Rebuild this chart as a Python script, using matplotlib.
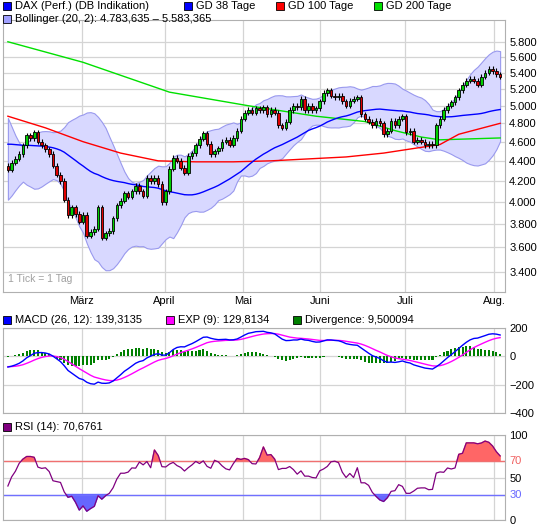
import matplotlib
matplotlib.use("Agg")
import matplotlib.pyplot as plt
import numpy as np
from matplotlib.patches import Rectangle

plt.rcParams.update({
    "font.family": ["Liberation Sans", "DejaVu Sans"],
    "font.size": 8,
    "axes.linewidth": 0.8,
})

# ---- data ----
# Schlusskurse Dez/Jan (Vorlauf fuer Indikatoren)
pre_close = [4380, 4450, 4500, 4420, 4550, 4600, 4700, 4650, 4720, 4750, 4700, 4680,
             4720, 4650, 4630, 4700, 4750, 4810,
             4950, 4980, 5030, 4940, 4880, 4780, 4720, 4500, 4450, 4370, 4320, 4250,
             4240, 4260, 4230, 4320, 4400, 4380, 4330, 4350, 4420, 4350]
close = [4310, 4380, 4420, 4470, 4560, 4670, 4640, 4700, 4600, 4560,
         4520, 4470, 4350, 4260, 4200, 4020, 3880, 3950, 3890, 3820,
         3880, 3700, 3730, 3760, 3950, 3680, 3720, 3740, 3850, 3970,
         4010, 4080, 4050, 4100, 4150, 4100, 4060, 4230, 4200, 4230,
         4170, 4000, 4100, 4320, 4430, 4400, 4330, 4280, 4450, 4480,
         4560, 4630, 4690, 4580, 4470, 4500, 4530, 4600, 4620, 4570,
         4640, 4720, 4850, 4920, 4950, 4920, 4970, 4950, 4980, 4900,
         4950, 4920, 4780, 4750, 4820, 4950, 5000, 4980, 5080, 4950,
         5000, 4950, 4970, 5050, 5150, 5180, 5120, 5100, 5120, 5050,
         5000, 5060, 5080, 5100, 4900, 4850, 4820, 4780, 4830, 4800,
         4680, 4720, 4830, 4780, 4850, 4880, 4700, 4720, 4600, 4620,
         4600, 4560, 4580, 4560, 4780, 4850, 4950, 5000, 5040, 5100,
         5180, 5250, 5300, 5320, 5300, 5250, 5350, 5400, 5450, 5420, 5380, 5350]
gd100_idx = [0, 10, 20, 30, 40, 50, 60, 70, 80, 90, 100, 110, 115, 120, 131]
gd100_val = [4880, 4750, 4600, 4480, 4400, 4390, 4390, 4400, 4420, 4440, 4480, 4540, 4570, 4680, 4800]
gd200_idx = [0, 20, 43, 64, 82, 95, 103, 110, 115, 131]
gd200_val = [5800, 5530, 5160, 5000, 4880, 4820, 4720, 4650, 4620, 4640]
months = ["März", "April", "Mai", "Juni", "Juli", "Aug."]
month_pos = [19.7, 41.7, 62.5, 83.1, 105.7, 129.4]
price_ticks = [3400, 3600, 3800, 4000, 4200, 4400, 4600, 4800, 5000, 5200, 5400, 5600, 5800]

# ---- Indikatoren ----
allc = np.array(pre_close + close, dtype=float)
P = len(pre_close)
N = len(close)
x = np.arange(N)
c = allc[P:]
o = allc[P - 1:-1]
hi = np.maximum(o, c) * 1.006
lo = np.minimum(o, c) * 0.994

def sma(a, n):
    return np.array([a[i - n + 1:i + 1].mean() for i in range(P, len(a))])

def sstd(a, n):
    return np.array([a[i - n + 1:i + 1].std() for i in range(P, len(a))])

gd38 = sma(allc, 38)
mid = sma(allc, 20)
sd = sstd(allc, 20)
bb_up, bb_lo = mid + 2 * sd, mid - 2 * sd

def ema(a, n):
    k = 2 / (n + 1)
    out = np.empty_like(a)
    out[0] = a[0]
    for i in range(1, len(a)):
        out[i] = a[i] * k + out[i - 1] * (1 - k)
    return out

macd_all = ema(allc, 12) - ema(allc, 26)
sig_all = ema(macd_all, 9)
macd, sig = macd_all[P:], sig_all[P:]
div = macd - sig

# RSI (14) mit einfachen Mittelwerten
d = np.diff(allc)
g = np.where(d > 0, d, 0)
l = np.where(d < 0, -d, 0)
rsi = []
for i in range(P, len(allc)):
    up = g[i - 14:i].sum()
    dn = l[i - 14:i].sum()
    rsi.append(100 * up / max(up + dn, 1e-9))
rsi = np.array(rsi)

# ---- Figure ----
fig = plt.figure(figsize=(5.45, 5.29), dpi=100)
L, W = 3 / 545, 502 / 545
ax = fig.add_axes([L, 1 - 292 / 529, W, 272 / 529])
ax2 = fig.add_axes([L, 1 - 413 / 529, W, 85 / 529])
ax3 = fig.add_axes([L, 1 - 520 / 529, W, 85 / 529])
xl = (-1.3, N - 1 + 1.3)

for a in (ax, ax2, ax3):
    a.set_xlim(*xl)
    a.set_xticks(month_pos)
    a.tick_params(length=0, labelsize=8, pad=3)
    a.yaxis.tick_right()
    a.grid(color="#d4d4d4", linewidth=0.9)
    a.set_axisbelow(True)
    for s in a.spines.values():
        s.set_color("#b0b0b0")
ax.set_xticklabels(months)
ax2.set_xticklabels([])
ax3.set_xticklabels([])

# Hauptchart
ax.set_yscale("log")
ax.fill_between(x, bb_lo, bb_up, color="#d8d8ff", edgecolor="#9999ee", linewidth=0.8, zorder=1)
ax.plot(gd200_idx, gd200_val, color="#00e000", lw=1, zorder=2)
ax.plot(gd100_idx, gd100_val, color="#ff0000", lw=1, zorder=2)
ax.plot(x, gd38, color="#0000ff", lw=1, zorder=2)
for i in range(N):
    col = "#00d000" if c[i] >= o[i] else "#e00000"
    ax.vlines(i, lo[i], hi[i], color="black", lw=0.8, zorder=3)
    b0, b1 = min(o[i], c[i]), max(o[i], c[i])
    ax.add_patch(Rectangle((i - 0.35, b0), 0.7, max(b1 - b0, 4), facecolor=col,
                           edgecolor="black", linewidth=0.6, zorder=4))
ax.set_ylim(3246, 6100)
ax.set_yticks(price_ticks)
ax.set_yticklabels([f"{v//1000}.{v%1000:03d}" for v in price_ticks])
ax.yaxis.set_minor_locator(matplotlib.ticker.NullLocator())
ax.text(0.01, 0.035, "1 Tick = 1 Tag", transform=ax.transAxes, color="#a0a0a0", fontsize=7.5)

# MACD
ax2.bar(x, div, width=0.55, color="#008000", zorder=2)
ax2.plot(x, sig, color="#ff00ff", lw=1, zorder=3)
ax2.plot(x, macd, color="#0000ff", lw=1, zorder=4)
ax2.set_ylim(-400, 200)
ax2.set_yticks([-400, -200, 0, 200])
ax2.set_yticklabels(["\u2212400", "\u2212200", "0", "200"])

# RSI
ax3.plot(x, rsi, color="#800080", lw=0.9, zorder=3)
ax3.fill_between(x, 70, rsi, where=rsi > 70, interpolate=True, color="#ff6666", zorder=2)
ax3.fill_between(x, 30, rsi, where=rsi < 30, interpolate=True, color="#6666ff", zorder=2)
ax3.axhline(70, color="#f07070", lw=1, zorder=2)
ax3.axhline(30, color="#7070ff", lw=1, zorder=2)
ax3.set_ylim(0, 100)
ax3.set_yticks([0, 30, 50, 70, 100])
ax3.set_yticklabels(["0", "30", "50", "70", "100"])
ax3.get_yticklabels()[1].set_color("#6666ff")
ax3.get_yticklabels()[3].set_color("#f06060")

# Legenden
def key(px, py, col, txt):
    fig.patches.append(Rectangle((px / 545, 1 - (py + 4) / 529), 8 / 545, 8 / 529,
                                 transform=fig.transFigure, facecolor=col,
                                 edgecolor="black", linewidth=0.6))
    fig.text((px + 12) / 545, 1 - py / 529, txt, va="center", fontsize=8)

key(3, 6, "#0000ff", "DAX (Perf.) (DB Indikation)")
key(184, 6, "#0000ff", "GD 38 Tage")
key(276, 6, "#ff0000", "GD 100 Tage")
key(374, 6, "#00e000", "GD 200 Tage")
key(3, 19, "#a0a0ff", "Bollinger (20, 2): 4.783,635 \u2013 5.583,365")
key(3, 320, "#0000ff", "MACD (26, 12): 139,3135")
key(166, 320, "#ff00ff", "EXP (9): 129,8134")
key(293, 320, "#008000", "Divergence: 9,500094")
key(3, 427, "#800080", "RSI (14): 70,6761")

fig.savefig("out.png", dpi=100)
